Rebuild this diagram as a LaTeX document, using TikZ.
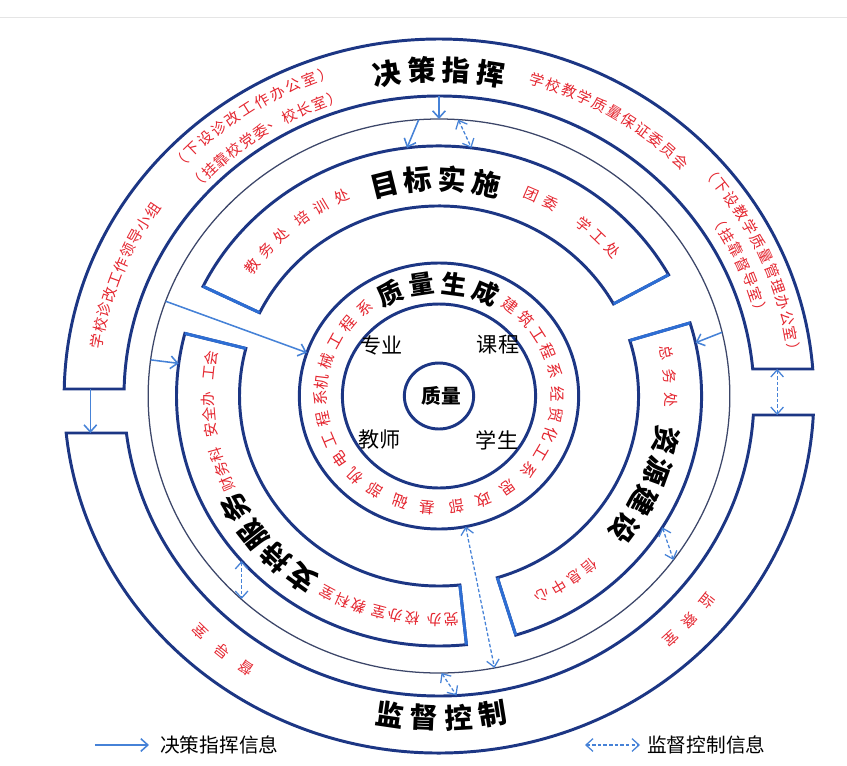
\documentclass[tikz,border=0pt]{standalone}
\usepackage{fontspec}
\usetikzlibrary{arrows.meta,calc,positioning}
\newfontfamily\cjk{Noto Sans CJK SC}
\definecolor{bleunuit}{RGB}{28,54,132}
\definecolor{bleuvif}{RGB}{45,110,212}
\definecolor{bleufleche}{RGB}{70,130,215}
\definecolor{rougetexte}{RGB}{228,38,48}
\definecolor{grisfin}{RGB}{60,70,105}
% characters set one by one along an arc
\newcommand{\arctexte}[6]{%
  \foreach \car [count=\idx from 0] in {#6} {%
    \pgfmathsetmacro{\ang}{#4+#5*\idx}%
    \node[#1, rotate=\ang-90] (#2\idx) at (\ang:#3) {\car};%
  }%
}
% a piece of ring between two angles
\newcommand{\bande}[4]{%
  \draw[anneau] (#1:#4) arc[start angle=#1, end angle=#2, radius=#4]
    -- (#2:#3) arc[start angle=#2, end angle=#1, radius=#3] -- cycle;%
  \draw[bout] (#1:#3) -- (#1:#4);%
  \draw[bout] (#2:#3) -- (#2:#4);%
}

\begin{document}
\begin{tikzpicture}[x=0.025cm, y=0.025cm]
%
% Styles
%
\tikzset{every node/.style={font=\cjk, inner sep=0pt}};%
\tikzset{anneau/.style={draw=bleunuit, line width=2.1pt}};%
\tikzset{bout/.style={draw=bleuvif, line width=2.1pt}};%
\tikzset{fin/.style={draw=grisfin, line width=0.9pt}};%
\tikzset{fleche/.style={draw=bleufleche, line width=1.1pt, -{Straight Barb[length=5pt,width=9pt]}}};%
\tikzset{fleche double/.style={draw=bleufleche, line width=0.9pt, dash pattern=on 2.5pt off 1.5pt,
    {Straight Barb[length=5pt,width=9pt]}-{Straight Barb[length=5pt,width=9pt]}}};%
\tikzset{titre/.style={font=\cjk\bfseries\fontsize{20}{20}\selectfont}};%
\tikzset{titre petit/.style={font=\cjk\bfseries\fontsize{18}{18}\selectfont}};%
\tikzset{rouge/.style={text=rougetexte, font=\cjk\fontsize{10.5}{10.5}\selectfont}};%
\tikzset{rouge grand/.style={text=rougetexte, font=\cjk\fontsize{11}{11}\selectfont}};%
\tikzset{noir/.style={font=\cjk\fontsize{15}{15}\selectfont}};%
\tikzset{legende/.style={font=\cjk\fontsize{14}{14}\selectfont}};%

%
% Macros
%
\pgfmathsetmacro{\Rext}{357}%
\pgfmathsetmacro{\Rint}{300}%
\pgfmathsetmacro{\Rfin}{277}%
\pgfmathsetmacro{\Rmo}{250}%
\pgfmathsetmacro{\Rmi}{190}%
\pgfmathsetmacro{\Rq}{133}%
\pgfmathsetmacro{\Rc}{92}%
\pgfmathsetmacro{\Rz}{33}%
\pgfmathsetmacro{\aHGo}{180-asin(7/\Rext)}%
\pgfmathsetmacro{\aHGi}{180-asin(7/\Rint)}%
\pgfmathsetmacro{\aHDo}{asin(27/\Rext)}%
\pgfmathsetmacro{\aHDi}{asin(27/\Rint)}%
\pgfmathsetmacro{\aBGo}{180+asin(37/\Rext)}%
\pgfmathsetmacro{\aBGi}{180+asin(37/\Rint)}%
\pgfmathsetmacro{\aBDo}{360-asin(19/\Rext)}%
\pgfmathsetmacro{\aBDi}{360-asin(19/\Rint)}%

\useasboundingbox (-439,-369) rectangle (408,396);%
\draw[gray!20, line width=0.6pt] (-439,379) -- (408,379);%

\begin{scope}[xscale=1.05]
  % outer ring, cut in two
  \draw[anneau] (\aHGo:\Rext) arc[start angle=\aHGo, end angle=\aHDo, radius=\Rext]
    -- (\aHDi:\Rint) arc[start angle=\aHDi, end angle=\aHGi, radius=\Rint] -- cycle;%
  \draw[anneau] (\aBGo:\Rext) arc[start angle=\aBGo, end angle=\aBDo, radius=\Rext]
    -- (\aBDi:\Rint) arc[start angle=\aBDi, end angle=\aBGi, radius=\Rint] -- cycle;%
  \draw[fin] (0,0) circle[radius=\Rfin];%

  % middle ring, three pieces
  \bande{29}{154}{\Rmi}{\Rmo}%
  \bande{165.5}{276}{\Rmi}{\Rmo}%
  \bande{-73}{17}{\Rmi}{\Rmo}%

  % inner circles
  \draw[anneau] (0,0) circle[radius=\Rq];%
  \draw[anneau] (0,0) circle[radius=\Rc];%
  \draw[anneau] (0,0) circle[radius=\Rz];%

  % outer ring texts
  \arctexte{titre}{jc}{326}{98.7}{-5.8}{决,策,指,挥}%
  \arctexte{rouge}{wy}{329}{73.5}{-2.8}{学,校,教,学,质,量,保,证,委,员,会}%
  \arctexte{rouge}{bg}{341}{40.7}{-2.75}{（,下,设,教,学,质,量,管,理,办,公,室,）}%
  \arctexte{rouge}{dd}{318}{33.2}{-2.93}{（,挂,靠,督,导,室,）}%
  \arctexte{rouge}{lx}{330}{170.4}{-2.75}{学,校,诊,改,工,作,领,导,小,组}%
  \arctexte{rouge}{zg}{340}{136.5}{-2.8}{（,下,设,诊,改,工,作,办,公,室,）}%
  \arctexte{rouge}{gk}{314}{137}{-2.85}{（,挂,靠,校,党,委,、,校,长,室,）}%
  \arctexte{rouge}{du}{328}{236}{-5}{督,导,室}%
  \arctexte{rouge}{jcs}{328}{-38.7}{-4.5}{监,察,室}%
  \foreach \car [count=\idx from 0] in {监,督,控,制} {%
    \pgfmathsetmacro{\ang}{261.7+5.8*\idx}%
    \node[titre, rotate=\ang+90] (jk\idx) at (\ang:322) {\car};%
  }%

  % middle ring texts
  \arctexte{rouge}{jw}{220}{144}{-5.5}{教,务,处}%
  \arctexte{rouge}{px}{220}{126.4}{-5.7}{培,训,处}%
  \arctexte{titre}{mb}{217}{103.9}{-8.6}{目,标,实,施}%
  \arctexte{rouge}{tw}{220}{66.5}{-5.5}{团,委}%
  \arctexte{rouge}{xg}{220}{51.3}{-5}{学,工,处}%
  \arctexte{rouge}{dbx}{224}{273}{-4.2}{党,办}%
  \arctexte{rouge}{xbs}{224}{263.5}{-4.2}{校,办,室}%
  \arctexte{rouge}{jks}{224}{250}{-4.2}{教,科,室}%
  \arctexte{titre}{zc}{224}{234.3}{-8.1}{支,持,服,务}%
  \arctexte{rouge}{cwk}{220}{203.5}{-4}{财,务,科}%
  \arctexte{rouge}{aqb}{220}{189}{-4.1}{安,全,办}%
  \arctexte{rouge}{gh}{220}{174}{-4}{工,会}%
  \arctexte{rouge}{zw}{221}{11.2}{-6.1}{总,务,处}%
  \arctexte{titre}{zy}{221}{-11.5}{-8.4}{资,源,建,设}%
  \arctexte{rouge}{xx}{223}{-50}{-4.6}{信,息,中,心}%

  % inner ring texts
  \arctexte{rouge grand}{jx}{113}{173}{-11}{机,械,工,程,系}%
  \arctexte{titre petit}{zl}{113}{114.5}{-16}{质,量,生,成}%
  \arctexte{rouge grand}{jz}{113}{53}{-10}{建,筑,工,程,系}%
  \arctexte{rouge grand}{jm}{113}{1}{-10.5}{经,贸,化,工,系}%
  \arctexte{rouge grand}{sz}{112}{-54.5}{-13.4}{思,政,部}%
  \arctexte{rouge grand}{jcb}{112}{264}{-13.5}{基,础,部}%
  \arctexte{rouge grand}{jd}{113}{225}{-11}{机,电,工,程,系}%

  % end points of the arrows
  \coordinate (dec-bas) at (90:\Rint);%
  \coordinate (fin-haut) at (90:\Rfin);%
  \coordinate (fin-a) at (94:\Rfin);%
  \coordinate (mb-a) at (97:\Rmo);%
  \coordinate (fin-b) at (86.2:\Rfin);%
  \coordinate (mb-b) at (82.9:\Rmo);%
  \coordinate (fin-c) at (160:\Rfin);%
  \coordinate (zl-g) at (161:\Rq);%
  \coordinate (fin-d) at (172.5:\Rfin);%
  \coordinate (zc-g) at (172.5:\Rmo);%
  \coordinate (fin-e) at (13.3:\Rfin);%
  \coordinate (zy-d) at (12.3:\Rmo);%
  \coordinate (fin-f) at (-79:\Rfin);%
  \coordinate (zl-b) at (-79:\Rq);%
  \coordinate (fin-g) at (-89.5:\Rfin);%
  \coordinate (jk-haut) at (-86.8:\Rint);%
  \coordinate (zc-b) at (-188,-165);%
  \coordinate (fin-h) at (-188,-203);%
  \coordinate (zy-b) at (-31.7:\Rmo);%
  \coordinate (fin-i) at (-36.3:\Rfin);%
  \coordinate (gauche-h) at (-332,7);%
  \coordinate (gauche-b) at (-332,-37);%
  \coordinate (droite-h) at (322,27);%
  \coordinate (droite-b) at (322,-19);%

  % command flow
  \draw[fleche] (dec-bas) -- (fin-haut);%
  \draw[fleche] (fin-a) -- (mb-a);%
  \draw[fleche] (fin-c) -- (zl-g);%
  \draw[fleche] (fin-d) -- (zc-g);%
  \draw[fleche] (fin-e) -- (zy-d);%
  \draw[fleche] (gauche-h) -- (gauche-b);%

  % control flow
  \draw[fleche double] (fin-b) -- (mb-b);%
  \draw[fleche double] (zl-b) -- (fin-f);%
  \draw[fleche double] (fin-g) -- (jk-haut);%
  \draw[fleche double] (zc-b) -- (fin-h);%
  \draw[fleche double] (zy-b) -- (fin-i);%
  \draw[fleche double] (droite-h) -- (droite-b);%
\end{scope}

% centre
\node[noir] (prof) at (-57,51) {专业};%
\node[noir] (cours) at (59,51) {课程};%
\node[noir] (ens) at (-59,-44) {教师};%
\node[noir] (etud) at (58,-44) {学生};%
\node[font=\cjk\bfseries\fontsize{14}{14}\selectfont] (qual) at (2,0) {质量};%

% legend
\coordinate (lg-a) at (-344,-349);%
\coordinate (lg-b) at (-290,-349);%
\draw[fleche] (lg-a) -- (lg-b);%
\node[legende, anchor=west] (lg-t) at (-279,-349) {决策指挥信息};%
\coordinate (ld-a) at (146,-349);%
\coordinate (ld-b) at (201,-349);%
\draw[fleche double] (ld-a) -- (ld-b);%
\node[legende, anchor=west] (ld-t) at (208,-349) {监督控制信息};%
\end{tikzpicture}
\end{document}
